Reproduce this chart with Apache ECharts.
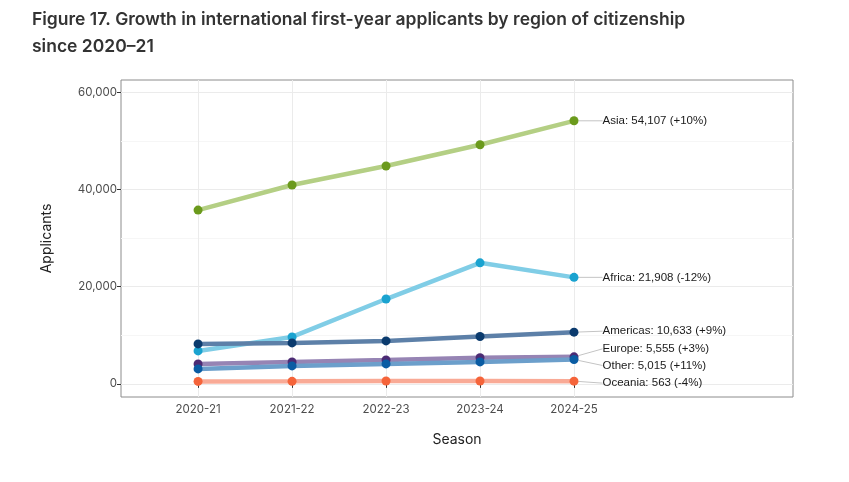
<!DOCTYPE html>
<html><head><meta charset="utf-8">
<script src="https://cdn.jsdelivr.net/npm/echarts@6/dist/echarts.min.js"></script>
<style>html,body{margin:0;padding:0;background:#fff}#c{width:849px;height:482px}</style>
</head><body><div id="c"></div>
<script>
const seasons = ['2020-21', '2021-22', '2022-23', '2023-24', '2024-25'];
const regions = ['Asia', 'Africa', 'Americas', 'Europe', 'Other', 'Oceania'];
const asia = [35750, 40900, 44800, 49190, 54107];
const africa = [6780, 9650, 17450, 24895, 21908];
const americas = [8220, 8430, 8840, 9755, 10633];
const europe = [4110, 4520, 4930, 5393, 5555];
const other = [3080, 3700, 4110, 4518, 5015];
const oceania = [500, 520, 590, 586, 563];
const changes = ['+10%', '-12%', '+9%', '+3%', '+11%', '-4%'];
const yTickValues = [0, 20000, 40000, 60000];
const yGridValues = [0, 10000, 20000, 30000, 40000, 50000, 60000];
const xTickValues = [1, 2, 3, 4, 5];

const values = [asia, africa, americas, europe, other, oceania];
const pointColors = ['#6b9a1c', '#1aa3d0', '#0b3b6e', '#4c2b74', '#0a5ca3', '#f5643a'];
const lineColors = ['#b4cf84', '#80cde6', '#5d80a8', '#9684b4', '#6c9fcb', '#f9aa96'];
const labelDy = [0, 0, -1, -8, 6, 2];
const fmt = n => n.toLocaleString('en-US');
const uiFont = 'Inter, Roboto, sans-serif';

const series = regions.map((name, s) => ({
  name, type: 'line',
  data: values[s].map((v, i) => {
    const item = { value: [i + 1, v] };
    if (i === values[s].length - 1) {
      item.label = {
        show: true, position: 'right', distance: 24,
        formatter: name + ': ' + fmt(v) + ' (' + changes[s] + ')',
        fontFamily: 'Liberation Sans, Arial, sans-serif', fontSize: 11.5, color: '#1a1a1a'
      };
      item.labelLine = { show: true, lineStyle: { color: '#c4c4c4', width: 1 } };
    }
    return item;
  }),
  symbol: 'circle', symbolSize: 9,
  itemStyle: { color: pointColors[s] },
  lineStyle: { color: lineColors[s], width: 4.5 },
  labelLayout: { dy: labelDy[s] },
  emphasis: { disabled: true },
  animation: false, z: 2
}));

const chart = echarts.init(document.getElementById('c'), null, { renderer: 'canvas' });
chart.setOption({
  animation: false,
  title: {
    text: 'Figure 17. Growth in international first-year applicants by region of citizenship\nsince 2020–21',
    left: 32, top: 6, padding: 0,
    textStyle: { fontFamily: uiFont, fontWeight: 600, fontSize: 17.5, color: '#333', lineHeight: 27 }
  },
  grid: { left: 121, top: 80, right: 56, bottom: 85, show: true, borderColor: '#8c8c8c', borderWidth: 1, backgroundColor: 'transparent' },
  xAxis: {
    type: 'value', min: 0.18, max: 7.33,
    name: 'Season', nameLocation: 'middle', nameGap: 36,
    nameTextStyle: { fontFamily: uiFont, fontSize: 14, color: '#222' },
    axisLine: { show: false },
    axisTick: { show: true, customValues: xTickValues, length: 4, lineStyle: { color: '#333' } },
    axisLabel: { customValues: xTickValues, formatter: v => seasons[v - 1], fontFamily: uiFont, fontSize: 11.5, color: '#4d4d4d', margin: 7 },
    splitLine: { show: true, lineStyle: { color: '#ebebeb', width: 1 } }
  },
  yAxis: [{
    type: 'value', min: -2700, max: 62500,
    name: 'Applicants', nameLocation: 'middle', nameGap: 67, nameRotate: 90,
    nameTextStyle: { fontFamily: uiFont, fontSize: 14, color: '#222' },
    axisLine: { show: false },
    axisTick: { show: false, customValues: yGridValues },
    axisLabel: { show: false, customValues: yGridValues },
    splitLine: { show: true, lineStyle: { color: ['#ebebeb', '#f6f6f6'], width: 1 } }
  }, {
    type: 'value', min: -2700, max: 62500, position: 'left',
    axisLine: { show: false },
    axisTick: { show: true, customValues: yTickValues, length: 4, lineStyle: { color: '#333' } },
    axisLabel: { customValues: yTickValues, formatter: v => fmt(v), fontFamily: uiFont, fontSize: 11.5, color: '#4d4d4d', margin: 4 },
    splitLine: { show: false }
  }],
  series
});
</script></body></html>
